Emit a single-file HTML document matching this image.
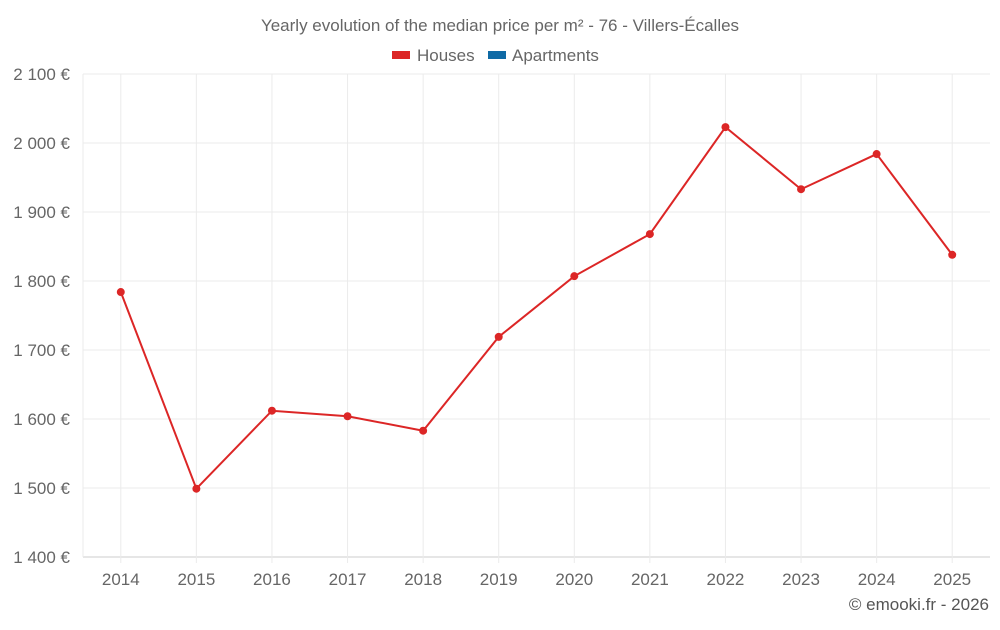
<!DOCTYPE html>
<html><head><meta charset="utf-8"><style>
body{margin:0;background:#fff;font-family:"Liberation Sans",sans-serif;}
svg text{font-family:"Liberation Sans",sans-serif;}
</style></head><body>
<svg width="1000" height="625">
<text x="500" y="31" text-anchor="middle" font-size="17" fill="#666">Yearly evolution of the median price per m² - 76 - Villers-Écalles</text>
<g>
<g><rect x="392" y="51" width="18" height="8" fill="#dc2626"/><text x="417" y="61" font-size="17" fill="#666">Houses</text></g>
<g><rect x="488" y="51" width="18" height="8" fill="#0f6aa5"/><text x="512" y="61" font-size="17" fill="#666">Apartments</text></g>
</g>
<g id="grid"></g>
<g id="axes"></g>
<g id="series"></g>
<text x="989" y="610" text-anchor="end" font-size="17" fill="#555">© emooki.fr - 2026</text>
</svg>
<script>
const years=["2014","2015","2016","2017","2018","2019","2020","2021","2022","2023","2024","2025"];
const houses=[1784,1499,1612,1604,1583,1719,1807,1868,2023,1933,1984,1838];
const yTicks=[1400,1500,1600,1700,1800,1900,2000,2100];
const L=83,R=990,T=74,B=557,yMin=1400,yMax=2100;
const ns="http://www.w3.org/2000/svg";
const bw=(R-L)/years.length;
const x=i=>L+bw*(i+0.5);
const y=v=>B-(v-yMin)/(yMax-yMin)*(B-T);
function mk(p,t,a){const e=document.createElementNS(ns,t);for(const k in a)e.setAttribute(k,a[k]);p.appendChild(e);return e;}
const g=document.getElementById('grid'),ax=document.getElementById('axes'),s=document.getElementById('series');
yTicks.forEach(v=>{
 const l=mk(g,'line',{x1:L,x2:R,y1:y(v),y2:y(v),stroke:v===yMin?'#ccc':'#ebebeb'});
 
 
 const t=mk(ax,'text',{x:70,y:y(v)+6,'text-anchor':'end','font-size':17,fill:'#666'});
 t.textContent=String(v).replace(/(\d)(\d{3})$/,'$1 $2')+' €';
 
 
});
mk(g,'line',{x1:L,x2:L,y1:T,y2:B,stroke:'#ebebeb'});
years.forEach((yr,i)=>{
 const l=mk(g,'line',{x1:x(i),x2:x(i),y1:T,y2:B+6,stroke:'#ebebeb'});
 
 
 const t=mk(ax,'text',{x:x(i),y:585,'text-anchor':'middle','font-size':17,fill:'#666'});
 t.textContent=yr;
 
 
});
const line=mk(s,'polyline',{points:houses.map((v,i)=>x(i)+','+y(v)).join(' '),fill:'none',stroke:'#dc2626','stroke-width':2});


houses.forEach((v,i)=>{
 const c=mk(s,'circle',{cx:x(i),cy:y(v),r:4,fill:'#dc2626'});
 
 
});
</script>
</body></html>
